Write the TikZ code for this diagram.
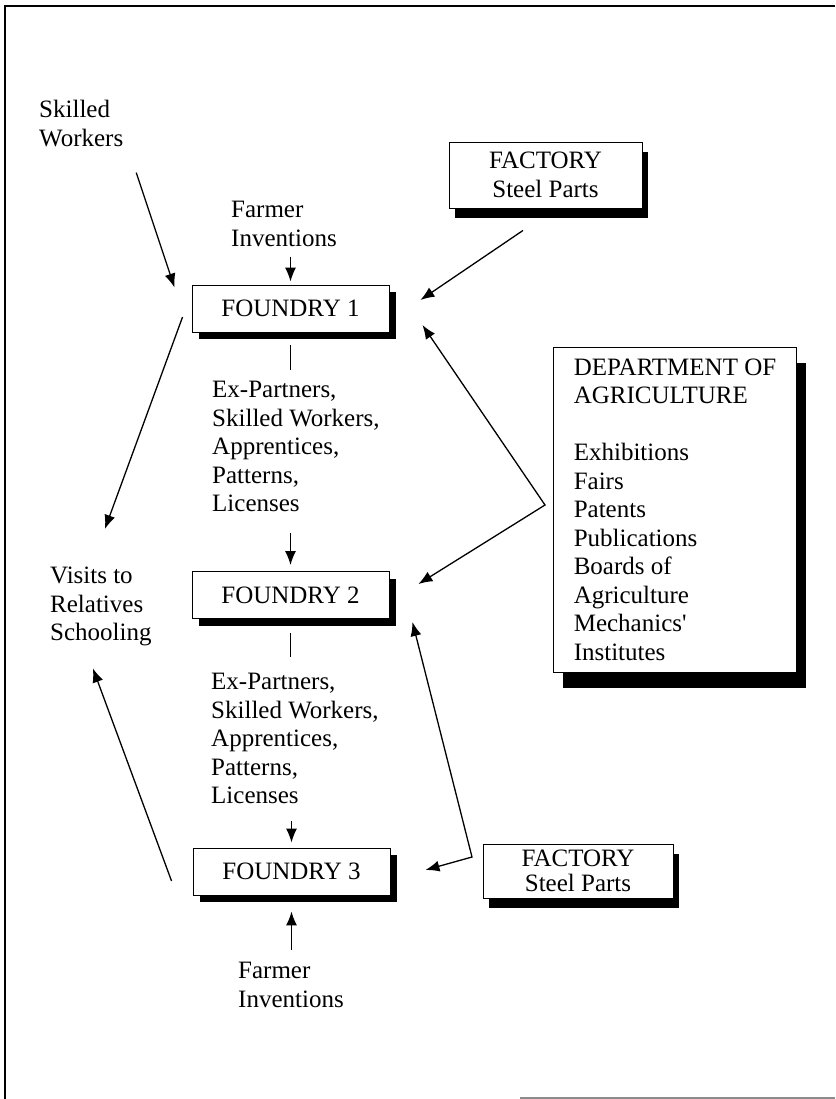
\documentclass[tikz,border=0pt]{standalone}
\usepackage{fontspec}
\setmainfont{Liberation Serif}
\usetikzlibrary{arrows.meta,calc,shadows}
\newcommand\diagfont{\fontsize{25}{28.5}\selectfont}
\tikzset{
  basic/.style   = {font=\diagfont, inner sep=0pt},
  label/.style   = {basic, align=left, anchor=north west},
  boxed/.style   = {basic, draw, line width=0.9pt, fill=white, align=center},
  foundry/.style = {boxed, minimum width=197pt, minimum height=47pt,
                    drop shadow={shadow xshift=7pt, shadow yshift=-7pt, fill=black, opacity=1}},
  factory/.style = {boxed, minimum width=193pt, minimum height=66pt,
                    drop shadow={shadow xshift=6pt, shadow yshift=-10pt, fill=black, opacity=1}},
  dept/.style    = {boxed, align=left, minimum width=243pt, minimum height=325pt,
                    drop shadow={shadow xshift=9pt, shadow yshift=-16pt, fill=black, opacity=1}},
  link/.style    = {line width=1.3pt}
}

\begin{document}
\begin{tikzpicture}[x=1pt, y=-1pt, >={Latex[length=14pt,width=11pt]}]
\useasboundingbox (0,0) rectangle (835,1099);

% frame round the figure
\draw[line width=2pt] (835,6) -- (4.5,6) -- (4.5,1099);
\draw[line width=1.5pt, black!45] (520,1098) -- (835,1098);

% the three foundries
\node[foundry] (f1) at (290.5,308.5) {FOUNDRY 1};
\node[foundry] (f2) at (290.5,595) {FOUNDRY 2};
\node[foundry] (f3) at (291.5,871.5) {FOUNDRY 3};

% outside sources
\node[factory] (fac1) at (545.5,175) {FACTORY\\Steel Parts};
\node[factory, minimum width=190pt, minimum height=54pt,
      font=\fontsize{25}{25.5}\selectfont] (fac2) at (578,871) {FACTORY\\Steel Parts};
\node[dept] (dept) at (675,509.5) {DEPARTMENT OF\\AGRICULTURE\\[28.5pt]Exhibitions\\Fairs\\Patents\\Publications\\Boards of\\Agriculture\\Mechanics\textquotesingle\\Institutes};

% plain labels
\node[label] (skilled) at (39,100) {Skilled\\Workers};
\node[label] (farmer1) at (231,201) {Farmer\\Inventions};
\node[label] (flow1) at (212,381) {Ex-Partners,\\Skilled Workers,\\Apprentices,\\Patterns,\\Licenses};
\node[label] (visits) at (50,567) {Visits to\\Relatives\\Schooling};
\node[label] (flow2) at (211,673) {Ex-Partners,\\Skilled Workers,\\Apprentices,\\Patterns,\\Licenses};
\node[label] (farmer3) at (238,962) {Farmer\\Inventions};

% the chain down the middle
\draw[link, ->, shorten <=10pt, shorten >=3pt] (farmer1.south -| f1.north) -- (f1.north);
\draw[link, shorten <=13pt, shorten >=11pt] (f1.south) -- (flow1.north -| f1.south);
\draw[link, ->, shorten <=21pt, shorten >=6pt] (flow1.south -| f2.north) -- (f2.north);
\draw[link, shorten <=14pt, shorten >=16pt] (f2.south) -- (flow2.north -| f2.south);
\draw[link, ->, shorten <=17pt, shorten >=5pt] (flow2.south -| f3.north) -- (f3.north);
\draw[link, ->, shorten <=12pt, shorten >=16pt] (farmer3.north -| f3.south) -- (f3.south);

% arrows on the left
\draw[link, ->] ($(skilled.south)+(55,26)$) -- ($(f1.north west)+(-17,3)$);
\draw[link, ->] ($(f1.west)+(-9,8.5)$) -- ($(visits.north)+(4,-38)$);
\draw[link, ->] ($(f3.west)+(-21,9.5)$) -- ($(visits.south)+(-8,22)$);

% arrows on the right
\draw[link, ->] ($(fac1.south)+(-22.5,22)$) -- ($(f1.east)+(31,-8.5)$);
\coordinate (bend1) at (545,505);
\coordinate (bend2) at (472,857);
\draw[link, <->] ($(f1.east)+(33,16.5)$) -- (bend1) -- ($(f2.east)+(29,-11)$);
\draw[link, <->] ($(f2.east)+(23,27)$) -- (bend2) -- ($(f3.east)+(35,-1.5)$);
\end{tikzpicture}
\end{document}
